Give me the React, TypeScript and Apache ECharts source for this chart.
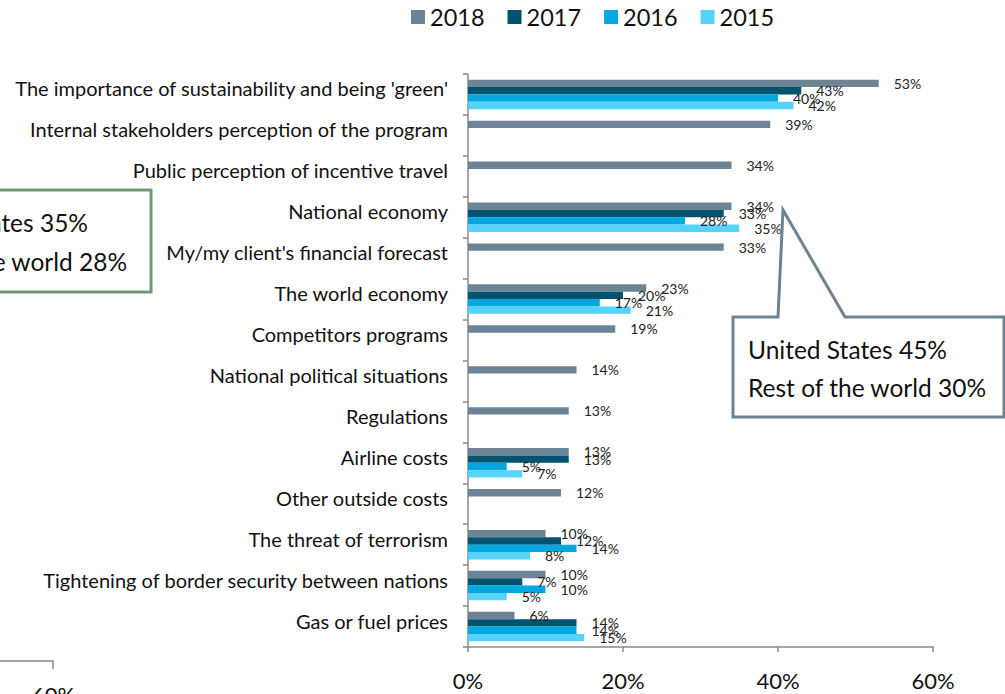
import React, { useEffect, useRef } from "react";
import * as echarts from "echarts";

const categories = [
  "The importance of sustainability and being 'green'",
  "Internal stakeholders perception of the program",
  "Public perception of incentive travel",
  "National economy",
  "My/my client's financial forecast",
  "The world economy",
  "Competitors programs",
  "National political situations",
  "Regulations",
  "Airline costs",
  "Other outside costs",
  "The threat of terrorism",
  "Tightening of border security between nations",
  "Gas or fuel prices",
];

const seriesNames = ["2018", "2017", "2016", "2015"];
const v2018 = [53, 39, 34, 34, 33, 23, 19, 14, 13, 13, 12, 10, 10, 6];
const v2017 = [43, null, null, 33, null, 20, null, null, null, 13, null, 12, 7, 14];
const v2016 = [40, null, null, 28, null, 17, null, null, null, 5, null, 14, 10, 14];
const v2015 = [42, null, null, 35, null, 21, null, null, null, 7, null, 8, 5, 15];
const colors = ["#6C8496", "#00536F", "#00A8DF", "#56D3FC"];
const xTicks = [0, 20, 40, 60];

const calloutRight = ["United States 45%", "Rest of the world 30%"];
const calloutLeft = ["United States 35%", "Rest of the world 28%"];

const FONT = "Lato";

export default function App() {
  const ref = useRef<HTMLDivElement>(null);
  useEffect(() => {
    const chart = echarts.init(ref.current!, null, { renderer: "svg" });
    const data = [v2018, v2017, v2016, v2015];
    chart.setOption({
      animation: false,
      textStyle: { fontFamily: FONT },
      legend: {
        top: 0,
        left: 406,
        itemWidth: 14,
        itemHeight: 14,
        itemGap: 23,
        icon: "rect",
        textStyle: { fontSize: 23.5, color: "#111", fontFamily: FONT },
        data: seriesNames,
      },
      grid: { left: 468, right: 72, top: 74, bottom: 47, containLabel: false },
      xAxis: {
        type: "value",
        min: xTicks[0],
        max: xTicks[xTicks.length - 1],
        interval: 20,
        splitLine: { show: false },
        axisLine: { show: true, lineStyle: { color: "#8a8a8a", width: 1.5 } },
        axisTick: { show: true, length: 5, lineStyle: { color: "#8a8a8a", width: 1.5 } },
        axisLabel: { formatter: "{value}%", fontSize: 22, color: "#111", margin: 22, fontFamily: FONT },
      },
      yAxis: {
        type: "category",
        inverse: true,
        data: categories,
        axisLine: { show: true, lineStyle: { color: "#8a8a8a", width: 1.5 } },
        axisTick: { show: true, length: 5, lineStyle: { color: "#8a8a8a", width: 1.5 } },
        axisLabel: {
          fontSize: 20,
          color: "#111",
          margin: 20,
          fontFamily: FONT,
          verticalAlign: "bottom",
          lineHeight: 12,
        },
      },
      series: seriesNames.map((name, i) => ({
        name,
        type: "bar",
        data: data[i],
        barGap: "0%",
        barCategoryGap: "28%",
        itemStyle: { color: colors[i] },
        label: {
          show: true,
          position: "right",
          distance: 15,
          formatter: "{c}%",
          fontSize: 14,
          color: "#222",
          fontFamily: FONT,
        },
      })),
      graphic: [
        {
          type: "polygon",
          shape: {
            points: [
              [733, 317], [778, 317], [783, 210], [845, 317],
              [1004, 317], [1004, 417], [733, 417],
            ],
          },
          style: { fill: "#fff", stroke: "#6B8394", lineWidth: 3 },
          z: 100,
        },
        {
          type: "text",
          x: 748,
          y: 349,
          style: { text: calloutRight[0], fontSize: 24.5, fill: "#111", fontFamily: FONT, textVerticalAlign: "middle" },
          z: 101,
        },
        {
          type: "text",
          x: 748,
          y: 387,
          style: { text: calloutRight[1], fontSize: 24.5, fill: "#111", fontFamily: FONT, textVerticalAlign: "middle" },
          z: 101,
        },
        {
          type: "rect",
          shape: { x: -10, y: 190, width: 161, height: 102 },
          style: { fill: "#fff", stroke: "#6E9A73", lineWidth: 3 },
          z: 100,
        },
        {
          type: "text",
          x: -111,
          y: 222,
          style: { text: calloutLeft[0], fontSize: 24.5, fill: "#111", fontFamily: FONT, textVerticalAlign: "middle" },
          z: 101,
        },
        {
          type: "text",
          x: -111,
          y: 261,
          style: { text: calloutLeft[1], fontSize: 24.5, fill: "#111", fontFamily: FONT, textVerticalAlign: "middle" },
          z: 101,
        },
        {
          type: "polyline",
          shape: { points: [[0, 661], [53, 661], [53, 669]] },
          style: { stroke: "#8a8a8a", lineWidth: 1.5, fill: null },
        },
        {
          type: "text",
          x: 32,
          y: 683,
          style: { text: "60%", fontSize: 22, fill: "#111", fontFamily: FONT },
        },
      ],
    });
    return () => chart.dispose();
  }, []);
  return (
    <div
      ref={ref}
      style={{ position: "absolute", left: 0, top: 0, width: 1005, height: 694, background: "#fff" }}
    />
  );
}
